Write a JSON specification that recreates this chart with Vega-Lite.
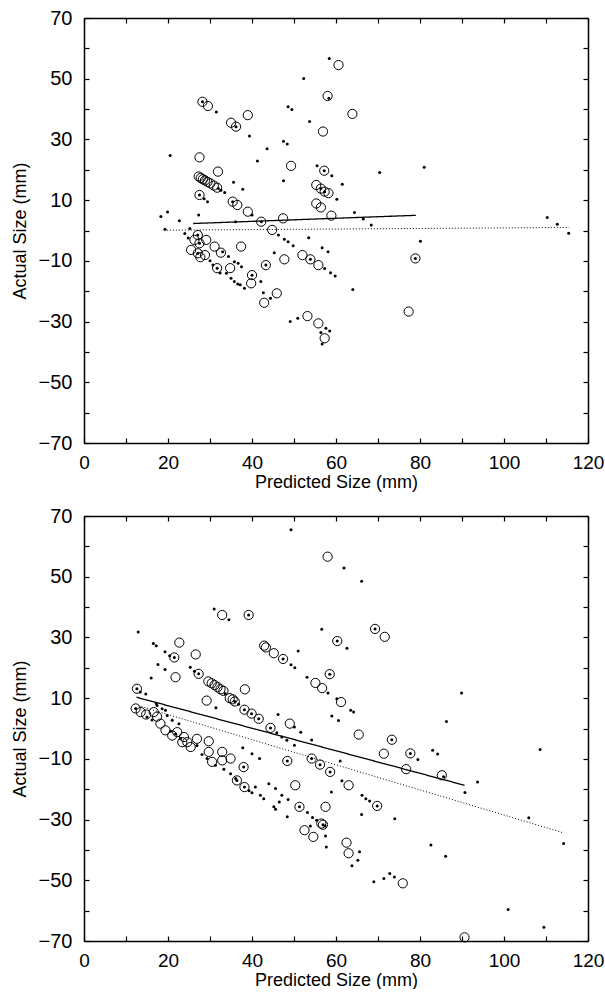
{
  "$schema": "https://vega.github.io/schema/vega-lite/v6.json",
  "background": "white",
  "padding": {"left": 11, "top": 8, "right": 0, "bottom": 0},
  "spacing": 15,
  "config": {
    "view": {"stroke": null},
    "axis": {
      "domainColor": "black", "domainWidth": 1.5, "tickColor": "black", "tickWidth": 1.2, "tickSize": -5,
      "labelFont": "Liberation Sans", "labelFontSize": 20, "labelColor": "black",
      "titleFont": "Liberation Sans", "titleFontSize": 18, "titleFontWeight": "normal", "titleColor": "black",
      "grid": false, "labelOverlap": false, "labelFlush": false
    }
  },
  "datasets": {
    "a": [
      {"t":"c","x":60.6,"y":54.5},{"t":"c","x":28.2,"y":42.4},{"t":"c","x":29.5,"y":41.0},{"t":"c","x":39.0,"y":38.0},{"t":"c","x":35.0,"y":35.5},{"t":"c","x":36.2,"y":34.2},{"t":"c","x":58.0,"y":44.3},{"t":"c","x":63.9,"y":38.4},{"t":"c","x":56.9,"y":32.6},{"t":"c","x":27.5,"y":24.1},{"t":"c","x":31.9,"y":19.4},{"t":"c","x":49.3,"y":21.3},{"t":"c","x":57.2,"y":19.7},{"t":"c","x":27.3,"y":17.8},{"t":"c","x":27.8,"y":17.3},{"t":"c","x":28.3,"y":16.9},{"t":"c","x":28.8,"y":16.5},{"t":"c","x":29.4,"y":16.0},{"t":"c","x":30.1,"y":15.5},{"t":"c","x":30.9,"y":14.8},{"t":"c","x":31.7,"y":14.1},{"t":"c","x":27.5,"y":11.7},{"t":"c","x":35.4,"y":9.5},{"t":"c","x":36.5,"y":8.4},{"t":"c","x":39.0,"y":6.2},{"t":"c","x":55.3,"y":15.0},{"t":"c","x":56.4,"y":13.8},{"t":"c","x":57.3,"y":12.8},{"t":"c","x":58.2,"y":12.3},{"t":"c","x":55.3,"y":8.9},{"t":"c","x":56.4,"y":7.6},{"t":"c","x":58.9,"y":4.9},{"t":"c","x":42.2,"y":2.9},{"t":"c","x":47.4,"y":4.0},{"t":"c","x":44.8,"y":0.2},{"t":"c","x":27.1,"y":-1.5},{"t":"c","x":26.3,"y":-3.1},{"t":"c","x":29.1,"y":-3.1},{"t":"c","x":27.5,"y":-4.2},{"t":"c","x":31.1,"y":-5.3},{"t":"c","x":25.5,"y":-6.4},{"t":"c","x":27.1,"y":-7.5},{"t":"c","x":28.8,"y":-8.1},{"t":"c","x":27.7,"y":-8.8},{"t":"c","x":32.6,"y":-7.3},{"t":"c","x":37.4,"y":-5.3},{"t":"c","x":31.7,"y":-12.4},{"t":"c","x":34.8,"y":-12.4},{"t":"c","x":43.3,"y":-11.4},{"t":"c","x":47.7,"y":-9.5},{"t":"c","x":40.0,"y":-14.7},{"t":"c","x":39.8,"y":-17.4},{"t":"c","x":45.9,"y":-20.7},{"t":"c","x":42.9,"y":-23.8},{"t":"c","x":52.0,"y":-8.1},{"t":"c","x":53.9,"y":-9.5},{"t":"c","x":55.8,"y":-11.4},{"t":"c","x":53.2,"y":-28.2},{"t":"c","x":55.8,"y":-30.6},{"t":"c","x":57.3,"y":-35.5},{"t":"c","x":77.3,"y":-26.7},{"t":"c","x":78.9,"y":-9.2},
      {"t":"d","x":28.2,"y":42.4},{"t":"d","x":36.2,"y":34.2},{"t":"d","x":58.3,"y":43.6},{"t":"d","x":57.2,"y":19.7},{"t":"d","x":27.5,"y":11.7},{"t":"d","x":35.4,"y":9.5},{"t":"d","x":56.4,"y":13.8},{"t":"d","x":57.3,"y":12.8},{"t":"d","x":42.2,"y":2.9},{"t":"d","x":27.1,"y":-1.5},{"t":"d","x":27.5,"y":-4.2},{"t":"d","x":27.1,"y":-7.5},{"t":"d","x":31.7,"y":-12.4},{"t":"d","x":43.3,"y":-11.4},{"t":"d","x":40.0,"y":-14.7},{"t":"d","x":53.9,"y":-9.5},{"t":"d","x":78.9,"y":-9.2},
      {"t":"d","x":58.4,"y":56.7},{"t":"d","x":52.3,"y":50.1},{"t":"d","x":48.6,"y":40.8},{"t":"d","x":49.5,"y":39.9},{"t":"d","x":31.5,"y":39.0},{"t":"d","x":53.7,"y":35.9},{"t":"d","x":39.4,"y":31.1},{"t":"d","x":43.6,"y":26.9},{"t":"d","x":47.5,"y":29.4},{"t":"d","x":48.4,"y":28.5},{"t":"d","x":20.5,"y":24.7},{"t":"d","x":41.3,"y":22.9},{"t":"d","x":55.5,"y":21.3},{"t":"d","x":59.0,"y":18.0},{"t":"d","x":61.5,"y":15.2},{"t":"d","x":70.4,"y":19.1},{"t":"d","x":81.0,"y":20.8},{"t":"d","x":32.6,"y":13.3},{"t":"d","x":33.5,"y":12.5},{"t":"d","x":29.4,"y":9.5},{"t":"d","x":35.6,"y":15.9},{"t":"d","x":37.8,"y":13.6},{"t":"d","x":47.5,"y":16.4},{"t":"d","x":40.0,"y":5.1},{"t":"d","x":27.3,"y":5.1},{"t":"d","x":60.2,"y":10.3},{"t":"d","x":64.4,"y":5.9},{"t":"d","x":66.5,"y":3.8},{"t":"d","x":68.4,"y":1.8},{"t":"d","x":36.1,"y":2.9},{"t":"d","x":18.3,"y":4.6},{"t":"d","x":19.9,"y":6.1},{"t":"d","x":22.7,"y":3.2},{"t":"d","x":19.3,"y":0.4},{"t":"d","x":25.2,"y":0.7},{"t":"d","x":24.0,"y":-1.0},{"t":"d","x":46.3,"y":-1.5},{"t":"d","x":47.7,"y":-2.9},{"t":"d","x":48.6,"y":-3.7},{"t":"d","x":49.8,"y":-5.0},{"t":"d","x":53.5,"y":-2.4},{"t":"d","x":80.1,"y":-3.5},{"t":"d","x":110.3,"y":4.3},{"t":"d","x":112.7,"y":2.1},{"t":"d","x":115.4,"y":-0.9},{"t":"d","x":33.0,"y":-7.0},{"t":"d","x":34.4,"y":-8.6},{"t":"d","x":35.8,"y":-10.3},{"t":"d","x":36.7,"y":-10.8},{"t":"d","x":30.7,"y":-11.4},{"t":"d","x":32.4,"y":-14.0},{"t":"d","x":33.9,"y":-14.1},{"t":"d","x":35.0,"y":-15.7},{"t":"d","x":35.8,"y":-16.8},{"t":"d","x":36.6,"y":-17.6},{"t":"d","x":37.2,"y":-17.9},{"t":"d","x":38.2,"y":-19.0},{"t":"d","x":37.5,"y":-11.9},{"t":"d","x":42.1,"y":-16.8},{"t":"d","x":42.7,"y":-20.5},{"t":"d","x":44.4,"y":-22.3},{"t":"d","x":45.3,"y":-7.3},{"t":"d","x":57.3,"y":-12.5},{"t":"d","x":58.7,"y":-13.9},{"t":"d","x":59.8,"y":-15.0},{"t":"d","x":56.7,"y":-5.7},{"t":"d","x":58.1,"y":-7.0},{"t":"d","x":64.0,"y":-19.4},{"t":"d","x":49.1,"y":-30.0},{"t":"d","x":50.9,"y":-28.9},{"t":"d","x":57.6,"y":-32.2},{"t":"d","x":58.5,"y":-33.1},{"t":"d","x":56.4,"y":-33.6},{"t":"d","x":56.7,"y":-37.4},{"t":"d","x":24.8,"y":-2.5},{"t":"d","x":30.0,"y":-10.0},{"t":"d","x":32.0,"y":13.8},{"t":"d","x":28.6,"y":10.5},
      {"t":"s","x":26.0,"y":2.3},{"t":"s","x":79.0,"y":5.0},
      {"t":"o","x":19.0,"y":0.1},{"t":"o","x":115.5,"y":1.0}
    ],
    "b": [
      {"t":"c","x":58.0,"y":56.6},{"t":"c","x":32.9,"y":37.4},{"t":"c","x":39.2,"y":37.4},{"t":"c","x":69.3,"y":32.8},{"t":"c","x":71.6,"y":30.2},{"t":"c","x":60.3,"y":28.8},{"t":"c","x":22.7,"y":28.3},{"t":"c","x":26.6,"y":24.4},{"t":"c","x":21.5,"y":23.4},{"t":"c","x":42.9,"y":27.3},{"t":"c","x":43.3,"y":26.7},{"t":"c","x":45.2,"y":24.8},{"t":"c","x":47.4,"y":22.9},{"t":"c","x":21.8,"y":16.9},{"t":"c","x":27.3,"y":18.0},{"t":"c","x":29.6,"y":15.5},{"t":"c","x":30.4,"y":14.9},{"t":"c","x":31.1,"y":14.3},{"t":"c","x":31.8,"y":13.6},{"t":"c","x":32.5,"y":12.9},{"t":"c","x":33.2,"y":12.4},{"t":"c","x":34.7,"y":10.0},{"t":"c","x":35.4,"y":9.6},{"t":"c","x":35.9,"y":8.9},{"t":"c","x":38.3,"y":12.9},{"t":"c","x":29.2,"y":9.2},{"t":"c","x":38.2,"y":6.2},{"t":"c","x":39.9,"y":4.9},{"t":"c","x":41.6,"y":3.2},{"t":"c","x":44.4,"y":0.2},{"t":"c","x":49.0,"y":1.6},{"t":"c","x":55.1,"y":15.0},{"t":"c","x":56.7,"y":13.3},{"t":"c","x":58.5,"y":17.9},{"t":"c","x":61.2,"y":8.7},{"t":"c","x":65.4,"y":-2.0},{"t":"c","x":73.3,"y":-3.7},{"t":"c","x":71.4,"y":-8.3},{"t":"c","x":77.7,"y":-8.2},{"t":"c","x":76.7,"y":-13.4},{"t":"c","x":85.2,"y":-15.4},{"t":"c","x":12.6,"y":13.1},{"t":"c","x":12.3,"y":6.6},{"t":"c","x":13.5,"y":5.4},{"t":"c","x":14.8,"y":4.6},{"t":"c","x":16.6,"y":5.4},{"t":"c","x":17.4,"y":3.9},{"t":"c","x":18.2,"y":1.6},{"t":"c","x":19.4,"y":-0.6},{"t":"c","x":21.0,"y":-2.3},{"t":"c","x":22.2,"y":-1.2},{"t":"c","x":23.8,"y":-2.8},{"t":"c","x":23.4,"y":-4.5},{"t":"c","x":24.6,"y":-4.5},{"t":"c","x":25.4,"y":-6.1},{"t":"c","x":26.9,"y":-3.4},{"t":"c","x":29.7,"y":-4.2},{"t":"c","x":29.7,"y":-7.7},{"t":"c","x":30.5,"y":-11.0},{"t":"c","x":32.9,"y":-7.7},{"t":"c","x":32.9,"y":-10.5},{"t":"c","x":34.9,"y":-9.9},{"t":"c","x":38.0,"y":-12.7},{"t":"c","x":36.4,"y":-17.1},{"t":"c","x":38.2,"y":-19.3},{"t":"c","x":48.4,"y":-10.7},{"t":"c","x":54.2,"y":-9.9},{"t":"c","x":56.2,"y":-11.9},{"t":"c","x":58.6,"y":-14.3},{"t":"c","x":50.3,"y":-18.7},{"t":"c","x":63.0,"y":-18.7},{"t":"c","x":51.3,"y":-25.8},{"t":"c","x":57.5,"y":-25.8},{"t":"c","x":69.8,"y":-25.5},{"t":"c","x":56.5,"y":-31.3},{"t":"c","x":56.9,"y":-31.7},{"t":"c","x":52.5,"y":-33.5},{"t":"c","x":54.6,"y":-35.7},{"t":"c","x":62.5,"y":-37.6},{"t":"c","x":63.0,"y":-41.1},{"t":"c","x":75.9,"y":-51.0},{"t":"c","x":90.6,"y":-68.8},
      {"t":"d","x":39.2,"y":37.4},{"t":"d","x":69.3,"y":32.8},{"t":"d","x":60.3,"y":28.8},{"t":"d","x":21.5,"y":23.4},{"t":"d","x":47.4,"y":22.9},{"t":"d","x":27.3,"y":18.0},{"t":"d","x":35.9,"y":8.9},{"t":"d","x":38.2,"y":6.2},{"t":"d","x":39.9,"y":4.9},{"t":"d","x":41.6,"y":3.2},{"t":"d","x":44.4,"y":0.2},{"t":"d","x":58.5,"y":17.9},{"t":"d","x":73.3,"y":-3.7},{"t":"d","x":77.7,"y":-8.2},{"t":"d","x":85.6,"y":-15.9},{"t":"d","x":12.6,"y":13.1},{"t":"d","x":12.3,"y":6.6},{"t":"d","x":38.0,"y":-12.7},{"t":"d","x":36.4,"y":-17.1},{"t":"d","x":38.2,"y":-19.3},{"t":"d","x":48.4,"y":-10.7},{"t":"d","x":54.2,"y":-9.9},{"t":"d","x":56.2,"y":-11.9},{"t":"d","x":58.6,"y":-14.3},{"t":"d","x":51.3,"y":-25.8},{"t":"d","x":69.8,"y":-25.5},{"t":"d","x":56.9,"y":-31.7},
      {"t":"d","x":49.3,"y":65.5},{"t":"d","x":61.9,"y":52.9},{"t":"d","x":66.1,"y":48.5},{"t":"d","x":31.0,"y":39.4},{"t":"d","x":34.5,"y":35.8},{"t":"d","x":56.6,"y":32.7},{"t":"d","x":62.6,"y":26.4},{"t":"d","x":51.0,"y":25.5},{"t":"d","x":12.9,"y":31.8},{"t":"d","x":16.5,"y":28.0},{"t":"d","x":17.2,"y":27.3},{"t":"d","x":19.3,"y":25.3},{"t":"d","x":20.4,"y":24.0},{"t":"d","x":17.6,"y":21.1},{"t":"d","x":19.3,"y":19.4},{"t":"d","x":16.0,"y":16.6},{"t":"d","x":25.3,"y":20.2},{"t":"d","x":26.3,"y":18.9},{"t":"d","x":49.3,"y":21.0},{"t":"d","x":50.2,"y":20.0},{"t":"d","x":53.1,"y":16.9},{"t":"d","x":58.1,"y":11.7},{"t":"d","x":60.2,"y":9.8},{"t":"d","x":63.5,"y":6.0},{"t":"d","x":64.2,"y":5.4},{"t":"d","x":59.0,"y":4.1},{"t":"d","x":60.6,"y":2.6},{"t":"d","x":89.9,"y":11.7},{"t":"d","x":86.3,"y":2.3},{"t":"d","x":46.2,"y":4.6},{"t":"d","x":14.7,"y":11.4},{"t":"d","x":17.2,"y":8.2},{"t":"d","x":17.4,"y":7.6},{"t":"d","x":18.6,"y":6.5},{"t":"d","x":19.4,"y":6.0},{"t":"d","x":19.8,"y":4.3},{"t":"d","x":21.0,"y":2.7},{"t":"d","x":22.6,"y":1.6},{"t":"d","x":31.4,"y":6.8},{"t":"d","x":45.9,"y":-1.4},{"t":"d","x":47.1,"y":-2.8},{"t":"d","x":48.3,"y":-3.9},{"t":"d","x":50.1,"y":-5.5},{"t":"d","x":50.1,"y":0.5},{"t":"d","x":51.6,"y":-1.2},{"t":"d","x":54.2,"y":-3.8},{"t":"d","x":37.8,"y":-6.3},{"t":"d","x":40.0,"y":-8.3},{"t":"d","x":41.8,"y":-9.9},{"t":"d","x":26.9,"y":-5.6},{"t":"d","x":28.1,"y":-8.6},{"t":"d","x":29.3,"y":-9.9},{"t":"d","x":31.3,"y":-12.1},{"t":"d","x":33.3,"y":-13.4},{"t":"d","x":34.9,"y":-14.9},{"t":"d","x":36.1,"y":-16.5},{"t":"d","x":40.8,"y":-19.3},{"t":"d","x":42.0,"y":-22.0},{"t":"d","x":42.8,"y":-23.1},{"t":"d","x":45.2,"y":-25.8},{"t":"d","x":44.0,"y":-18.2},{"t":"d","x":45.6,"y":-19.8},{"t":"d","x":47.1,"y":-22.0},{"t":"d","x":48.4,"y":-29.1},{"t":"d","x":48.6,"y":-23.4},{"t":"d","x":46.5,"y":-24.2},{"t":"d","x":61.0,"y":-10.7},{"t":"d","x":79.5,"y":-10.2},{"t":"d","x":83.0,"y":-7.2},{"t":"d","x":84.2,"y":-8.4},{"t":"d","x":93.7,"y":-17.6},{"t":"d","x":90.7,"y":-21.1},{"t":"d","x":108.6,"y":-6.9},{"t":"d","x":61.4,"y":-17.2},{"t":"d","x":58.9,"y":-20.9},{"t":"d","x":53.2,"y":-27.7},{"t":"d","x":45.6,"y":-26.6},{"t":"d","x":66.2,"y":-22.0},{"t":"d","x":67.1,"y":-23.1},{"t":"d","x":68.0,"y":-23.9},{"t":"d","x":66.1,"y":-28.3},{"t":"d","x":74.0,"y":-29.7},{"t":"d","x":54.4,"y":-29.3},{"t":"d","x":55.4,"y":-30.2},{"t":"d","x":53.9,"y":-32.1},{"t":"d","x":57.4,"y":-32.1},{"t":"d","x":57.5,"y":-35.4},{"t":"d","x":57.7,"y":-39.0},{"t":"d","x":65.6,"y":-40.6},{"t":"d","x":65.2,"y":-43.4},{"t":"d","x":63.8,"y":-45.2},{"t":"d","x":69.0,"y":-50.5},{"t":"d","x":71.4,"y":-49.4},{"t":"d","x":72.8,"y":-47.8},{"t":"d","x":73.9,"y":-48.9},{"t":"d","x":82.6,"y":-38.4},{"t":"d","x":86.1,"y":-42.1},{"t":"d","x":105.9,"y":-29.4},{"t":"d","x":114.2,"y":-37.9},{"t":"d","x":101.0,"y":-59.6},{"t":"d","x":109.5,"y":-65.5},{"t":"d","x":15.0,"y":3.8},{"t":"d","x":16.2,"y":2.8},{"t":"d","x":20.6,"y":-0.9},{"t":"d","x":21.8,"y":-1.8},{"t":"d","x":23.0,"y":-3.3},{"t":"d","x":39.3,"y":-20.5},{"t":"d","x":40.0,"y":-21.2},{"t":"d","x":13.4,"y":12.0},{"t":"d","x":33.6,"y":11.5},{"t":"d","x":36.8,"y":8.0},
      {"t":"s","x":12.5,"y":10.3},{"t":"s","x":90.6,"y":-18.7},
      {"t":"o","x":13.0,"y":7.5},{"t":"o","x":114.0,"y":-34.3}
    ]
  },
  "vconcat": [
    {
      "data": {"name": "a"},
      "width": 504, "height": 425,
      "resolve": {"axis": {"x": "independent", "y": "independent"}},
      "layer": [
        {
          "transform": [{"filter": "datum.t == 'c'"}],
          "mark": {"type": "point", "shape": "circle", "filled": false, "size": 85, "stroke": "black", "strokeWidth": 1, "opacity": 1},
          "encoding": {
            "x": {"field": "x", "type": "quantitative", "scale": {"domain": [0, 120], "nice": false, "zero": false},
                  "axis": {"title": "Predicted Size (mm)", "values": [0,10,20,30,40,50,60,70,80,90,100,110,120], "labelExpr": "datum.value % 20 == 0 ? datum.label : ''", "labelPadding": 15, "titlePadding": 1, "labelFontSize": 19}},
            "y": {"field": "y", "type": "quantitative", "scale": {"domain": [-70, 70], "nice": false, "zero": false},
                  "axis": {"title": "Actual Size (mm)", "values": [-70,-60,-50,-40,-30,-20,-10,0,10,20,30,40,50,60,70], "labelExpr": "(datum.value + 70) % 20 == 0 ? datum.label : ''", "labelPadding": 17, "titlePadding": 9}}
          }
        },
        {
          "transform": [{"filter": "datum.t == 'd'"}],
          "mark": {"type": "circle", "size": 9, "color": "black", "opacity": 1},
          "encoding": {
            "x": {"field": "x", "type": "quantitative", "axis": null},
            "y": {"field": "y", "type": "quantitative", "axis": null}
          }
        },
        {
          "transform": [{"filter": "datum.t == 's' || datum.t == 'o'"}],
          "mark": {"type": "line", "color": "black"},
          "encoding": {
            "x": {"field": "x", "type": "quantitative", "axis": {"orient": "top", "title": null, "labels": false, "values": [0,10,20,30,40,50,60,70,80,90,100,110,120]}},
            "y": {"field": "y", "type": "quantitative", "axis": {"orient": "right", "title": null, "labels": false, "values": [-70,-60,-50,-40,-30,-20,-10,0,10,20,30,40,50,60,70]}},
            "detail": {"field": "t"},
            "strokeDash": {"field": "t", "type": "nominal", "scale": {"domain": ["s", "o"], "range": [[1, 0], [1, 2]]}, "legend": null},
            "strokeWidth": {"field": "t", "type": "nominal", "scale": {"domain": ["s", "o"], "range": [1.3, 1]}, "legend": null}
          }
        }
      ]
    },
    {
      "data": {"name": "b"},
      "width": 504, "height": 425,
      "resolve": {"axis": {"x": "independent", "y": "independent"}},
      "layer": [
        {
          "transform": [{"filter": "datum.t == 'c'"}],
          "mark": {"type": "point", "shape": "circle", "filled": false, "size": 85, "stroke": "black", "strokeWidth": 1, "opacity": 1},
          "encoding": {
            "x": {"field": "x", "type": "quantitative", "scale": {"domain": [0, 120], "nice": false, "zero": false},
                  "axis": {"title": "Predicted Size (mm)", "values": [0,10,20,30,40,50,60,70,80,90,100,110,120], "labelExpr": "datum.value % 20 == 0 ? datum.label : ''", "labelPadding": 15, "titlePadding": 1, "labelFontSize": 19}},
            "y": {"field": "y", "type": "quantitative", "scale": {"domain": [-70, 70], "nice": false, "zero": false},
                  "axis": {"title": "Actual Size (mm)", "values": [-70,-60,-50,-40,-30,-20,-10,0,10,20,30,40,50,60,70], "labelExpr": "(datum.value + 70) % 20 == 0 ? datum.label : ''", "labelPadding": 17, "titlePadding": 9}}
          }
        },
        {
          "transform": [{"filter": "datum.t == 'd'"}],
          "mark": {"type": "circle", "size": 9, "color": "black", "opacity": 1},
          "encoding": {
            "x": {"field": "x", "type": "quantitative", "axis": null},
            "y": {"field": "y", "type": "quantitative", "axis": null}
          }
        },
        {
          "transform": [{"filter": "datum.t == 's' || datum.t == 'o'"}],
          "mark": {"type": "line", "color": "black"},
          "encoding": {
            "x": {"field": "x", "type": "quantitative", "axis": {"orient": "top", "title": null, "labels": false, "values": [0,10,20,30,40,50,60,70,80,90,100,110,120]}},
            "y": {"field": "y", "type": "quantitative", "axis": {"orient": "right", "title": null, "labels": false, "values": [-70,-60,-50,-40,-30,-20,-10,0,10,20,30,40,50,60,70]}},
            "detail": {"field": "t"},
            "strokeDash": {"field": "t", "type": "nominal", "scale": {"domain": ["s", "o"], "range": [[1, 0], [1, 2]]}, "legend": null},
            "strokeWidth": {"field": "t", "type": "nominal", "scale": {"domain": ["s", "o"], "range": [1.3, 1]}, "legend": null}
          }
        }
      ]
    }
  ]
}
